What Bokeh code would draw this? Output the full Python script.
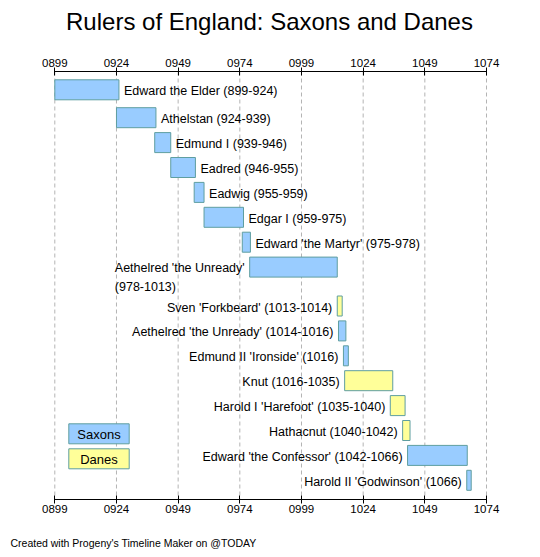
from bokeh.plotting import figure
from bokeh.models import Range1d, LinearAxis, FixedTicker, ColumnDataSource
from bokeh.core.properties import value
from bokeh.embed import file_html
from bokeh.resources import INLINE

# ---------------- data ----------------
title_text = "Rulers of England: Saxons and Danes"
footer_text = "Created with Progeny's Timeline Maker on @TODAY"

rulers = [
    "Edward the Elder (899-924)",
    "Athelstan (924-939)",
    "Edmund I (939-946)",
    "Eadred (946-955)",
    "Eadwig (955-959)",
    "Edgar I (959-975)",
    "Edward 'the Martyr' (975-978)",
    "Aethelred 'the Unready'\n(978-1013)",
    "Sven 'Forkbeard' (1013-1014)",
    "Aethelred 'the Unready' (1014-1016)",
    "Edmund II 'Ironside' (1016)",
    "Knut (1016-1035)",
    "Harold I 'Harefoot' (1035-1040)",
    "Hathacnut (1040-1042)",
    "Edward 'the Confessor' (1042-1066)",
    "Harold II 'Godwinson' (1066)",
]
houses = ["Saxons", "Saxons", "Saxons", "Saxons", "Saxons", "Saxons", "Saxons", "Saxons",
          "Danes", "Saxons", "Saxons", "Danes", "Danes", "Danes", "Saxons", "Saxons"]
starts = [899, 924, 939.5, 946, 955.5, 959.5, 975, 978,
          1013.5, 1014, 1016, 1016.5, 1035, 1040, 1042, 1066]
ends = [925, 940, 946, 956, 959.5, 975.5, 978.3, 1013.5,
        1015.5, 1017, 1018, 1036, 1041, 1043, 1066.2, 1067.8]
label_side = ["right"] * 7 + ["left"] * 9

legend_names = ["Saxons", "Danes"]
tick_years = [899, 924, 949, 974, 999, 1024, 1049, 1074]
tick_labels = ["0899", "0924", "0949", "0974", "0999", "1024", "1049", "1074"]

# ---------------- styles / layout (pixels) ----------------
FONT = "Liberation Sans"
FILL = {"Saxons": "#99ccff", "Danes": "#ffff99"}
EDGE = "#5f9ea0"
W, H = 532, 549
X0, X1 = tick_years[0], tick_years[-1]
AX_LEFT_PX, AX_RIGHT_PX = 54.3, 486.0
TOP_AXIS_PX, BOTTOM_AXIS_PX = 71, 499
PX_PER_YEAR = (AX_RIGHT_PX - AX_LEFT_PX) / (X1 - X0)
BAR_H = 20
FIRST_ROW = 89.3
PITCH = 24.9
FIRST_EXTRA = 3
EXTRA_LINE = 14
LINE_H = 17.5
FS = 12.5


def px_to_year(px):
    return X0 + (px - AX_LEFT_PX) / PX_PER_YEAR


ys = []
cur = FIRST_ROW
for i, lab in enumerate(rulers):
    ys.append(cur)
    n = lab.count("\n") + 1
    cur += PITCH + (n - 1) * EXTRA_LINE + (FIRST_EXTRA if i == 0 else 0)

p = figure(width=W, height=H, output_backend="svg", toolbar_location=None,
           x_range=Range1d(px_to_year(0), px_to_year(W)), y_range=Range1d(H, 0),
           min_border=0, x_axis_location=None, y_axis_location=None)
p.grid.visible = False
p.outline_line_color = None
p.background_fill_color = "white"
p.border_fill_color = "white"

ticker = FixedTicker(ticks=tick_years)
overrides = {t: l for t, l in zip(tick_years, tick_labels)}

# dashed vertical grid lines between the two axes
p.segment(x0=tick_years, x1=tick_years,
          y0=[TOP_AXIS_PX] * len(tick_years), y1=[BOTTOM_AXIS_PX] * len(tick_years),
          line_color="#b4b4b4", line_width=1, line_dash="4 3")

top_axis = LinearAxis(fixed_location=TOP_AXIS_PX)
bottom_axis = LinearAxis(fixed_location=BOTTOM_AXIS_PX)
p.add_layout(top_axis, "above")
p.add_layout(bottom_axis, "below")
for ax in (bottom_axis, top_axis):
    ax.ticker = ticker
    ax.bounds = (X0, X1)
    ax.major_label_overrides = overrides
    ax.minor_tick_line_color = None
    ax.major_tick_in = 4
    ax.major_tick_out = 4
    ax.axis_line_color = "black"
    ax.major_tick_line_color = "black"
    ax.major_label_text_font = FONT
    ax.major_label_text_font_size = "11.5px"
    ax.major_label_text_color = "black"
    ax.major_label_standoff = 1

# bars
src = ColumnDataSource(dict(
    left=starts, right=ends,
    top=[y - BAR_H / 2 for y in ys], bottom=[y + BAR_H / 2 for y in ys],
    color=[FILL[h] for h in houses],
))
p.quad(left="left", right="right", top="top", bottom="bottom", source=src,
       fill_color="color", line_color=EDGE, line_width=1)

# labels
for side in ("right", "left"):
    idx = [i for i, s in enumerate(label_side) if s == side]
    lsrc = ColumnDataSource(dict(
        x=[ends[i] if side == "right" else starts[i] for i in idx],
        y=[ys[i] for i in idx],
        text=[rulers[i] for i in idx],
        yo=[1.5 + rulers[i].count("\n") * LINE_H / 2 for i in idx],
    ))
    p.text(x="x", y="y", text="text", source=lsrc,
           x_offset=5 if side == "right" else -5, y_offset="yo",
           anchor="center_left" if side == "right" else "center_right",
           text_align="left", text_baseline="middle",
           text_font=value(FONT), text_font_size=f"{FS}px", text_color="black",
           text_line_height=LINE_H / FS)

# legend boxes
LEG_X0, LEG_X1 = 68.3, 128.7
LEG_Y0 = 423.3
LEG_STEP = 25
lx0 = px_to_year(LEG_X0)
lx1 = px_to_year(LEG_X1)
lsrc = ColumnDataSource(dict(
    left=[lx0] * len(legend_names), right=[lx1] * len(legend_names),
    top=[LEG_Y0 + k * LEG_STEP for k in range(len(legend_names))],
    bottom=[LEG_Y0 + BAR_H + k * LEG_STEP for k in range(len(legend_names))],
    cx=[(lx0 + lx1) / 2] * len(legend_names),
    cy=[LEG_Y0 + BAR_H / 2 + k * LEG_STEP for k in range(len(legend_names))],
    color=[FILL[n] for n in legend_names],
    text=legend_names,
))
p.quad(left="left", right="right", top="top", bottom="bottom", source=lsrc,
       fill_color="color", line_color=EDGE, line_width=1)
p.text(x="cx", y="cy", text="text", source=lsrc, text_align="center",
       text_baseline="middle", y_offset=1, text_font=value(FONT),
       text_font_size="13px", text_color="black")

# title and footer
TITLE_CX, TITLE_CY = 269, 20.5
FOOT_X, FOOT_CY = 10, 542
p.text(x=[px_to_year(TITLE_CX)], y=[TITLE_CY], text=[title_text],
       text_align="center", text_baseline="middle",
       text_font=value(FONT), text_font_size="24px", text_color="black")
p.text(x=[px_to_year(FOOT_X)], y=[FOOT_CY], text=[footer_text],
       text_align="left", text_baseline="middle",
       text_font=value(FONT), text_font_size="10.5px", text_color="black")

open("out.html", "w").write(file_html(p, INLINE))
